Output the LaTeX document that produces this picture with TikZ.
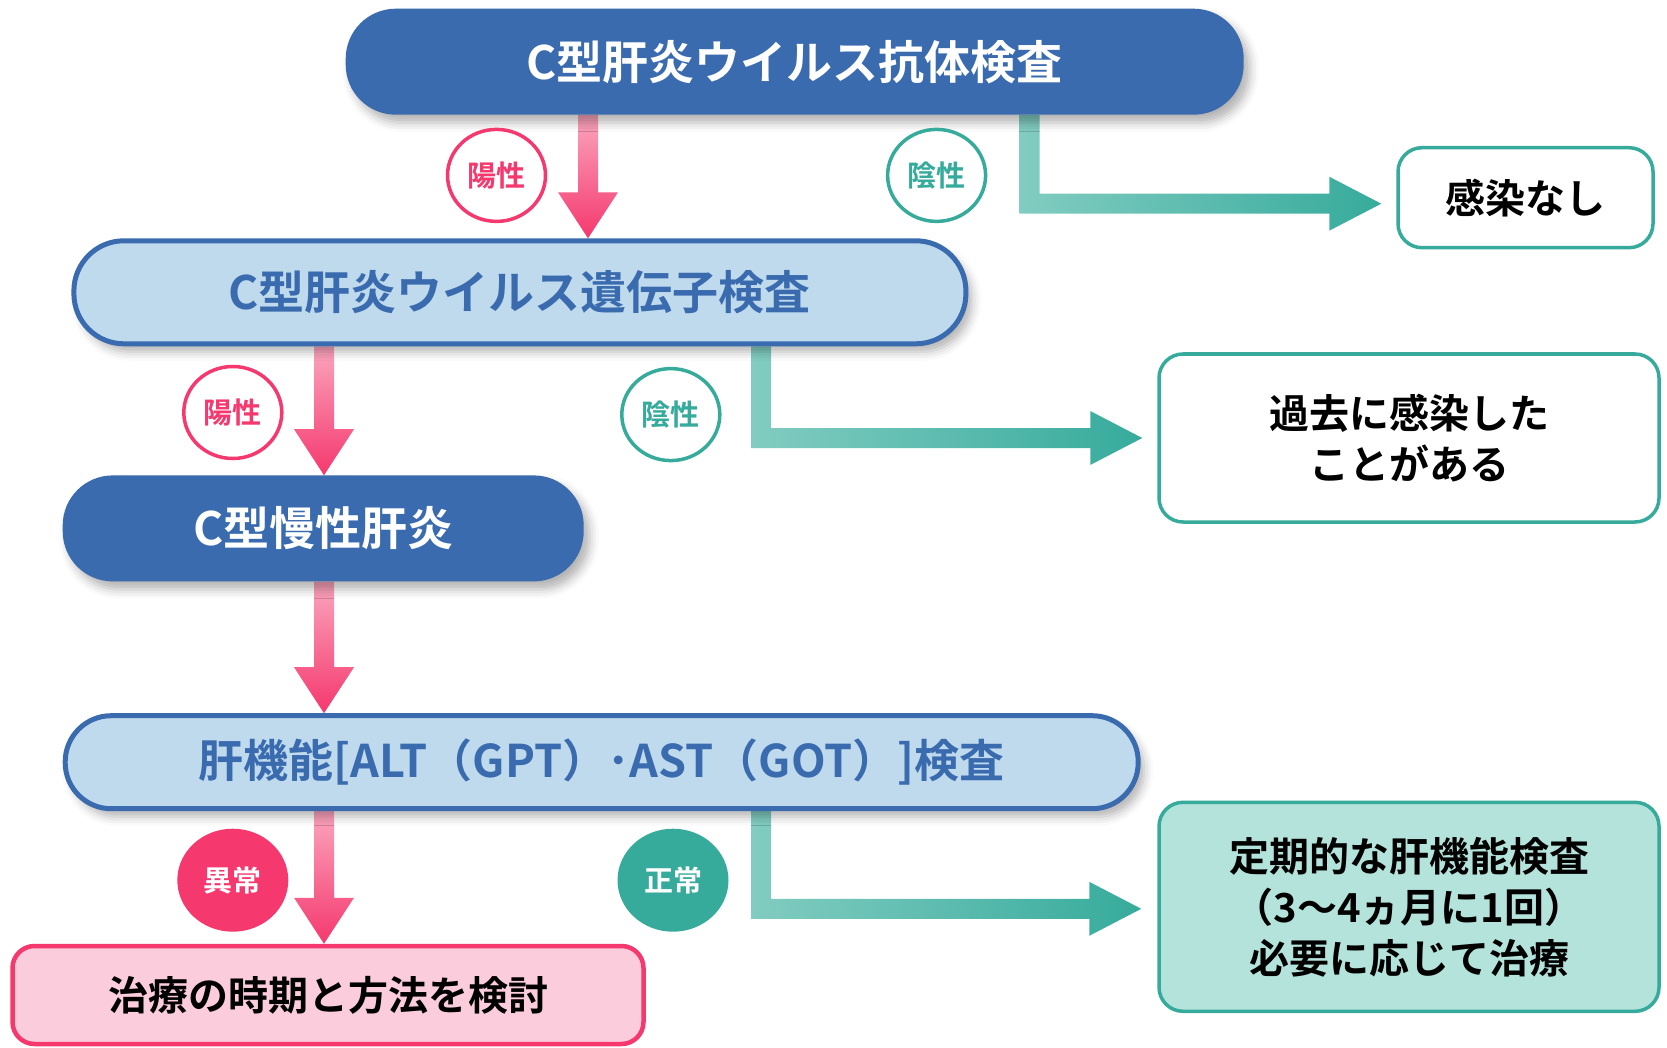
\documentclass[tikz,border=0pt]{standalone}
\usepackage{fontspec}
\setmainfont{Noto Sans CJK JP Bold}
\usetikzlibrary{shapes.geometric, calc, shadows.blur}

\definecolor{hcvblue}{HTML}{3A6BAF}
\definecolor{hcvpale}{HTML}{BFDAEC}
\definecolor{hcvpink}{HTML}{F5386E}
\definecolor{pinkpale}{HTML}{FBCCDC}
\definecolor{hcvteal}{HTML}{36AB9C}
\definecolor{teallight}{HTML}{82CCC1}
\definecolor{tealpale}{HTML}{B3E3DA}

\pgfdeclarelayer{background}
\pgfsetlayers{background,main}

\begin{document}
\begin{tikzpicture}
  [
  x=1pt, y=-1pt,
  % pill
  pill/.style = {rectangle, rounded corners=50pt,
    minimum height=106pt, inner sep=0pt,
    font=\fontsize{46}{50}\selectfont,
    blur shadow={shadow xshift=6pt, shadow yshift=-8pt,
      shadow blur radius=9pt, shadow opacity=30}},
  darkpill/.style = {pill, fill=hcvblue, text=white},
  palepill/.style = {pill, fill=hcvpale, draw=hcvblue,
    line width=5pt, text=hcvblue},
  % result
  result/.style = {rectangle, rounded corners=24pt,
    draw=hcvteal, line width=3.5pt, fill=white, text=black,
    align=center, font=\fontsize{40}{51}\selectfont},
  % tag
  tag/.style = {ellipse, inner sep=0pt,
    minimum width=98pt, minimum height=92pt,
    line width=3.5pt, fill=white,
    font=\fontsize{29}{30}\selectfont},
  bigtag/.style = {tag, minimum width=111pt, minimum height=103pt,
    text=white},
  % arrow
  pinkdown/.style = {top color=hcvpink!45, bottom color=hcvpink,
    to path={($(\tikztostart)+(-10,0)$) -- ($(\tikztotarget)+(-10,-46)$)
      -- ($(\tikztotarget)+(-30,-46)$) -- (\tikztotarget)
      -- ($(\tikztotarget)+(30,-46)$) -- ($(\tikztotarget)+(10,-46)$)
      -- ($(\tikztostart)+(10,0)$) -- cycle}},
  tealelbow/.style = {left color=teallight, right color=hcvteal,
    to path={($(\tikztostart)+(-10,0)$)
      -- ($(\tikztostart |- \tikztotarget)+(-10,10)$)
      -- ($(\tikztotarget)+(-52,10)$) -- ($(\tikztotarget)+(-52,27)$)
      -- (\tikztotarget)
      -- ($(\tikztotarget)+(-52,-27)$) -- ($(\tikztotarget)+(-52,-10)$)
      -- ($(\tikztostart |- \tikztotarget)+(10,-10)$)
      -- ($(\tikztostart)+(10,0)$) -- cycle}},
  ]

  \useasboundingbox (0,0) rectangle (1667,1048);

  % nodes
  \node [darkpill, minimum width=898pt] (antibody) at (794.7,61.7) {C型肝炎ウイルス抗体検査};
  \node [palepill, minimum width=892pt, minimum height=103pt] (gene) at (519.9,292.3) {C型肝炎ウイルス遺伝子検査};
  \node [darkpill, minimum width=521pt] (chronic) at (323.2,528.4) {C型慢性肝炎};
  \node [palepill, minimum width=1073pt, minimum height=93pt, rounded corners=46pt,
    font=\fontsize{45}{50}\selectfont] (liver) at (601.7,762.2) {肝機能[ALT（GPT）･AST（GOT）]検査};

  \node [result, minimum width=255pt, minimum height=100pt] (none) at (1525.5,197.7) {感染なし};
  \node [result, minimum width=500pt, minimum height=168pt] (past) at (1409,438) {過去に感染した\\ことがある};
  \node [result, fill=tealpale, minimum width=500pt, minimum height=209pt] (regular) at (1409,906.8) {定期的な肝機能検査\\（3〜4ヵ月に1回）\\必要に応じて治療};
  \node [result, draw=hcvpink, fill=pinkpale, line width=4.5pt, rounded corners=22pt,
    minimum width=631pt, minimum height=98pt] (treat) at (328,995) {治療の時期と方法を検討};

  \node [tag, draw=hcvpink, text=hcvpink] (posA) at (496.5,175.4) {陽性};
  \node [tag, draw=hcvteal, text=hcvteal] (negA) at (936.6,175.4) {陰性};
  \node [tag, draw=hcvpink, text=hcvpink] (posB) at (232.8,412.5) {陽性};
  \node [tag, draw=hcvteal, text=hcvteal] (negB) at (670.8,414.6) {陰性};
  \node [bigtag, fill=hcvpink] (abn) at (232.8,880.2) {異常};
  \node [bigtag, fill=hcvteal] (nor) at (673,880.2) {正常};

  % arrow columns and tips
  \coordinate (colA) at (588,0);
  \coordinate (colB) at (1029.6,0);
  \coordinate (colC) at (324,0);
  \coordinate (colD) at (761,0);
  \coordinate (tipA) at ($(none.west)+(-15,6)$);
  \coordinate (tipB) at ($(past.west)+(-15,0)$);
  \coordinate (tipC) at ($(regular.west)+(-16,2)$);

  % path
  \begin{pgfonlayer}{background}
    \path [pinkdown] (colA |- antibody.south) to (colA |- gene.north);
    \path [pinkdown] (colC |- gene.south) to (colC |- chronic.north);
    \path [pinkdown] (colC |- chronic.south) to (colC |- liver.north);
    \path [pinkdown] (colC |- liver.south) to (colC |- treat.north);
    \path [tealelbow] (colB |- antibody.south) to (tipA);
    \path [tealelbow] (colD |- gene.south) to (tipB);
    \path [tealelbow] (colD |- liver.south) to (tipC);
  \end{pgfonlayer}

\end{tikzpicture}
\end{document}
